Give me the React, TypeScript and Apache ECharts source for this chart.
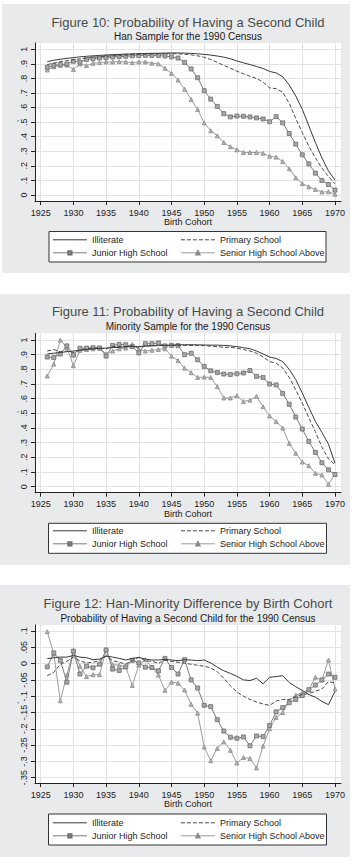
import React, { useEffect, useRef } from "react";
import * as echarts from "echarts";

const FONT = '"Liberation Sans", Arial, Helvetica, sans-serif';

// Birth cohorts (x values)
const years = [
  1926, 1927, 1928, 1929, 1930, 1931, 1932, 1933, 1934, 1935,
  1936, 1937, 1938, 1939, 1940, 1941, 1942, 1943, 1944, 1945,
  1946, 1947, 1948, 1949, 1950, 1951, 1952, 1953, 1954, 1955,
  1956, 1957, 1958, 1959, 1960, 1961, 1962, 1963, 1964, 1965,
  1966, 1967, 1968, 1969, 1970,
];

const xTicks = [1925, 1930, 1935, 1940, 1945, 1950, 1955, 1960, 1965, 1970];
const yTicksProb = [0, 0.1, 0.2, 0.3, 0.4, 0.5, 0.6, 0.7, 0.8, 0.9, 1];
const yTicksDiff = [-0.35, -0.3, -0.25, -0.2, -0.15, -0.1, -0.05, 0, 0.05, 0.1];

const seriesNames = ["Illiterate", "Primary School", "Junior High School", "Senior High School Above"];

// Figure 10: Han sample
const hanIlliterate = [
  0.915, 0.925, 0.932, 0.938, 0.943, 0.948, 0.952, 0.955, 0.958, 0.961,
  0.963, 0.965, 0.967, 0.968, 0.970, 0.971, 0.972, 0.973, 0.974, 0.975,
  0.975, 0.974, 0.972, 0.969, 0.965, 0.960, 0.954, 0.946, 0.935, 0.920,
  0.907, 0.895, 0.882, 0.868, 0.848, 0.838, 0.812, 0.755, 0.680, 0.588,
  0.475, 0.360, 0.255, 0.165, 0.102,
];
const hanPrimary = [
  0.895, 0.905, 0.915, 0.922, 0.928, 0.934, 0.940, 0.945, 0.949, 0.952,
  0.955, 0.958, 0.960, 0.962, 0.964, 0.966, 0.968, 0.969, 0.970, 0.970,
  0.969, 0.966, 0.962, 0.955, 0.945, 0.930, 0.910, 0.890, 0.870, 0.850,
  0.832, 0.815, 0.800, 0.775, 0.735, 0.730, 0.705, 0.630, 0.525, 0.428,
  0.335, 0.255, 0.185, 0.127, 0.078,
];
const hanJunior = [
  0.876, 0.890, 0.895, 0.898, 0.918, 0.912, 0.930, 0.935, 0.940, 0.943,
  0.947, 0.950, 0.952, 0.955, 0.957, 0.958, 0.958, 0.957, 0.954, 0.948,
  0.940, 0.910, 0.865, 0.805, 0.716, 0.658, 0.608, 0.558, 0.536, 0.542,
  0.540, 0.536, 0.529, 0.522, 0.503, 0.538, 0.495, 0.422, 0.349, 0.276,
  0.214, 0.150, 0.100, 0.072, 0.034,
];
const hanSenior = [
  0.858, 0.881, 0.890, 0.892, 0.862, 0.899, 0.888, 0.904, 0.908, 0.913,
  0.913, 0.915, 0.913, 0.908, 0.913, 0.913, 0.904, 0.900, 0.870, 0.835,
  0.789, 0.726, 0.656, 0.587, 0.495, 0.441, 0.406, 0.360, 0.332, 0.310,
  0.292, 0.292, 0.292, 0.287, 0.266, 0.260, 0.230, 0.180, 0.119, 0.078,
  0.056, 0.038, 0.020, 0.022, 0.005,
];

// Figure 11: Minority sample
const minIlliterate = [
  0.905, 0.910, 0.915, 0.920, 0.925, 0.930, 0.935, 0.940, 0.943, 0.945,
  0.948, 0.950, 0.953, 0.955, 0.955, 0.958, 0.960, 0.962, 0.964, 0.965,
  0.967, 0.968, 0.968, 0.967, 0.966, 0.965, 0.965, 0.963, 0.960, 0.955,
  0.948, 0.940, 0.925, 0.905, 0.884, 0.874, 0.852, 0.800, 0.730, 0.638,
  0.540, 0.445, 0.370, 0.290, 0.160,
];
const minPrimary = [
  0.925, 0.935, 0.920, 0.925, 0.915, 0.930, 0.940, 0.945, 0.945, 0.940,
  0.955, 0.955, 0.955, 0.960, 0.950, 0.960, 0.960, 0.965, 0.962, 0.963,
  0.963, 0.962, 0.962, 0.962, 0.962, 0.958, 0.955, 0.950, 0.950, 0.945,
  0.935, 0.925, 0.910, 0.885, 0.853, 0.842, 0.810, 0.745, 0.660, 0.570,
  0.470, 0.375, 0.270, 0.190, 0.150,
];
const minJunior = [
  0.884, 0.880, 0.905, 0.960, 0.897, 0.944, 0.945, 0.948, 0.946, 0.890,
  0.963, 0.970, 0.968, 0.955, 0.912, 0.975, 0.975, 0.980, 0.960, 0.963,
  0.962, 0.900, 0.910, 0.865, 0.820, 0.790, 0.778, 0.768, 0.765, 0.770,
  0.775, 0.792, 0.752, 0.745, 0.700, 0.694, 0.636, 0.562, 0.475, 0.393,
  0.309, 0.234, 0.163, 0.115, 0.083,
];
const minSenior = [
  0.755, 0.836, 1.000, 0.950, 0.825, 0.930, 0.935, 0.940, 0.945, 0.905,
  0.925, 0.940, 0.945, 0.970, 0.935, 0.925, 0.930, 0.935, 0.940, 0.890,
  0.860, 0.808, 0.777, 0.745, 0.747, 0.745, 0.682, 0.605, 0.605, 0.620,
  0.581, 0.590, 0.616, 0.545, 0.482, 0.444, 0.400, 0.295, 0.228, 0.168,
  0.143, 0.091, 0.080, 0.016, 0.086,
];

// Figure 12: Han-minority difference
const diffIlliterate = [
  0.015, 0.018, 0.020, 0.020, 0.025, 0.020, 0.018, 0.012, 0.014, 0.023,
  0.020, 0.016, 0.011, 0.016, 0.019, 0.014, 0.011, 0.011, 0.013, 0.011,
  0.009, 0.012, 0.011, 0.009, 0.011, 0.002, -0.011, -0.022, -0.030, -0.039,
  -0.050, -0.052, -0.045, -0.062, -0.042, -0.040, -0.037, -0.058, -0.071, -0.082,
  -0.095, -0.103, -0.116, -0.126, -0.085,
];
const diffPrimary = [
  -0.037, -0.027, -0.002, 0.007, 0.020, 0.008, 0.002, 0.004, 0.009, 0.024,
  0.009, 0.004, -0.001, 0.009, 0.019, 0.009, 0.007, 0.001, 0.011, 0.007,
  0.004, 0.001, -0.002, -0.005, -0.008, -0.013, -0.025, -0.045, -0.068, -0.087,
  -0.100, -0.110, -0.118, -0.124, -0.128, -0.115, -0.110, -0.110, -0.100, -0.095,
  -0.092, -0.085, -0.078, -0.055, -0.060,
];
const diffJunior = [
  -0.010, 0.033, 0.010, -0.057, 0.038, -0.032, -0.008, -0.013, -0.002, 0.042,
  -0.017, -0.021, -0.010, 0.010, 0.002, -0.011, -0.012, -0.022, 0.016, -0.012,
  -0.032, 0.012, -0.050, -0.075, -0.128, -0.132, -0.172, -0.207, -0.226, -0.229,
  -0.225, -0.252, -0.222, -0.224, -0.190, -0.148, -0.135, -0.120, -0.110, -0.098,
  -0.080, -0.066, -0.050, -0.032, -0.042,
];
const diffSenior = [
  0.098, 0.030, -0.114, -0.035, 0.040, -0.008, -0.040, -0.034, -0.034, 0.042,
  -0.003, -0.005, -0.010, -0.067, -0.005, 0.012, -0.012, -0.035, -0.082, -0.057,
  -0.060, -0.081, -0.125, -0.152, -0.256, -0.298, -0.260, -0.240, -0.266, -0.305,
  -0.288, -0.291, -0.320, -0.253, -0.200, -0.165, -0.150, -0.115, -0.097, -0.089,
  -0.080, -0.042, -0.050, 0.011, -0.078,
];

const STYLES = [
  { line: "#3a3a3a", type: "solid", symbol: "none", fill: "#3a3a3a", border: "#3a3a3a" },
  { line: "#4c4c4c", type: [4, 2], symbol: "none", fill: "#4c4c4c", border: "#4c4c4c" },
  { line: "#7c7c7c", type: "solid", symbol: "rect", fill: "#a6a6a6", border: "#6e6e6e" },
  { line: "#9c9c9c", type: "solid", symbol: "triangle", fill: "#b4b4b4", border: "#8a8a8a" },
];

const TEXT_COLOR = "#222222";

const fmtYear = (v: number) => String(Math.round(v));
const fmtProb = (v: number) => {
  const r = Math.round(v * 10) / 10;
  if (r === 0) return "0";
  if (r === 1) return "1";
  return String(r).replace("0.", ".");
};
const fmtDiff = (v: number) => {
  const r = Math.round(v * 100) / 100;
  if (r === 0) return "0";
  return String(r).replace("0.", ".");
};

// Layout (pixels)
const PANELS = [
  {
    bg: [2, 4, 348, 269],
    title: "Figure 10: Probability of Having a Second Child",
    sub: "Han Sample for the 1990 Census",
    titleY: 22, subY: 36,
    top: 43, bottom: 201,
    lowV: 0, lowPx: 195, highV: 1, highPx: 49.3,
    ticks: yTicksProb, fmt: fmtProb,
    data: [hanIlliterate, hanPrimary, hanJunior, hanSenior],
    box: [49, 231.5, 277, 30.5], rows: [240, 253],
  },
  {
    bg: [0, 294, 350, 271],
    title: "Figure 11: Probability of Having a Second Child",
    sub: "Minority Sample for the 1990 Census",
    titleY: 311.7, subY: 326.7,
    top: 333.3, bottom: 492.7,
    lowV: 0, lowPx: 486.7, highV: 1, highPx: 340,
    ticks: yTicksProb, fmt: fmtProb,
    data: [minIlliterate, minPrimary, minJunior, minSenior],
    box: [48.5, 523.3, 278, 30], rows: [531, 544],
  },
  {
    bg: [0, 585, 350, 272],
    title: "Figure 12: Han-Minority Difference by Birth Cohort",
    sub: "Probability of Having a Second Child for the 1990 Census",
    titleY: 603, subY: 618,
    top: 625, bottom: 783,
    lowV: -0.35, lowPx: 777.7, highV: 0.1, highPx: 631,
    ticks: yTicksDiff, fmt: fmtDiff,
    data: [diffIlliterate, diffPrimary, diffJunior, diffSenior],
    box: [48.5, 814, 278, 31], rows: [823, 836],
  },
];

const GRID_LEFT = 35;
const GRID_RIGHT_PX = 341;
const X1925 = 40.7;
const X1970 = 335;

function buildOption() {
  const pxPerYear = (X1970 - X1925) / 45;
  const xMin = 1925 - (X1925 - GRID_LEFT) / pxPerYear;
  const xMax = 1970 + (GRID_RIGHT_PX - X1970) / pxPerYear;

  const grid: any[] = [];
  const xAxis: any[] = [];
  const yAxis: any[] = [];
  const series: any[] = [];
  const legend: any[] = [];
  const elements: any[] = [];

  PANELS.forEach((p, i) => {
    const unit = (p.highV - p.lowV) / (p.lowPx - p.highPx);
    const yMin = p.lowV - (p.bottom - p.lowPx) * unit;
    const yMax = p.highV + (p.highPx - p.top) * unit;

    elements.push({
      type: "rect", z: -10,
      shape: { x: p.bg[0], y: p.bg[1], width: p.bg[2], height: p.bg[3] },
      style: { fill: "#e8eaeb" },
    });
    elements.push({
      type: "rect", z: 3,
      shape: { x: p.box[0], y: p.box[1], width: p.box[2], height: p.box[3] },
      style: { fill: "#ffffff", stroke: "#333333", lineWidth: 1 },
    });
    elements.push({
      type: "text", z: 10, x: 188, y: p.titleY,
      style: { text: p.title, fontSize: 13, fontFamily: FONT, fill: "#4a4a4a", align: "center", verticalAlign: "middle", textAlign: "center", textVerticalAlign: "middle" },
    });
    elements.push({
      type: "text", z: 10, x: 188, y: p.subY,
      style: { text: p.sub, fontSize: 10, fontFamily: FONT, fill: "#1a1a1a", align: "center", verticalAlign: "middle", textAlign: "center", textVerticalAlign: "middle" },
    });
    // small y-axis title mark
    elements.push({
      type: "text", z: 10, x: 18, y: (p.top + p.bottom) / 2,
      style: { text: "'", fontSize: 8, fontFamily: FONT, fill: TEXT_COLOR, align: "center", verticalAlign: "middle", textAlign: "center", textVerticalAlign: "middle" },
    });

    grid.push({
      left: GRID_LEFT, top: p.top, width: GRID_RIGHT_PX - GRID_LEFT, height: p.bottom - p.top,
      show: true, backgroundColor: "#ffffff", borderWidth: 0,
    });

    xAxis.push({
      type: "value", gridIndex: i, min: xMin, max: xMax,
      axisLine: { show: true, onZero: false, lineStyle: { color: TEXT_COLOR, width: 1 } },
      axisTick: { show: true, length: 4, customValues: xTicks, lineStyle: { color: TEXT_COLOR } },
      axisLabel: { customValues: xTicks, fontSize: 9, color: TEXT_COLOR, margin: 7, fontFamily: FONT, formatter: fmtYear },
      splitLine: { show: true, lineStyle: { color: "#e2e2e2", width: 1 } },
      name: "Birth Cohort", nameLocation: "middle", nameGap: 15.5,
      nameTextStyle: { fontSize: 9, color: TEXT_COLOR, fontFamily: FONT },
    });

    yAxis.push({
      type: "value", gridIndex: i, min: yMin, max: yMax,
      axisLine: { show: true, onZero: false, lineStyle: { color: TEXT_COLOR, width: 1 } },
      axisTick: { show: true, length: 4, customValues: p.ticks, lineStyle: { color: TEXT_COLOR } },
      axisLabel: { customValues: p.ticks, rotate: 90, fontSize: 9, color: TEXT_COLOR, margin: 7, fontFamily: FONT, formatter: p.fmt },
      splitLine: { show: true, lineStyle: { color: "#e2e2e2", width: 1 } },
    });

    p.data.forEach((vals, k) => {
      const s = STYLES[k];
      series.push({
        type: "line", name: seriesNames[k], xAxisIndex: i, yAxisIndex: i,
        data: years.map((yr, j) => [yr, vals[j]]),
        symbol: s.symbol === "none" ? "circle" : s.symbol, symbolSize: 4, showSymbol: s.symbol !== "none",
        lineStyle: { color: s.line, width: 1, type: s.type },
        itemStyle: { color: s.fill, borderColor: s.border, borderWidth: 0.8 },
        silent: true, z: 2 + (3 - k),
      });
    });

    const cols = [52, 180];
    seriesNames.forEach((name, k) => {
      const plain = STYLES[k].symbol === "none";
      const textStyle = { fontSize: 9, color: "#1e1e1e", fontFamily: FONT };
      legend.push({
        data: [plain ? { name, itemStyle: { opacity: 0 }, textStyle } : { name, textStyle }],
        left: cols[k % 2] + 0.4, top: Math.round(p.rows[Math.floor(k / 2)] - 5) + 0.3,
        itemWidth: 34, itemHeight: 4, padding: 0, selectedMode: false,
        lineStyle: { width: 1 },
        textStyle,
      });
    });
  });

  return {
    animation: false,
    backgroundColor: "#ffffff",
    grid, xAxis, yAxis, series, legend,
    graphic: { elements },
  };
}

export default function App() {
  const ref = useRef<HTMLDivElement>(null);
  useEffect(() => {
    if (!ref.current) return;
    const chart = echarts.init(ref.current, null, { renderer: "svg" });
    chart.setOption(buildOption());
    return () => chart.dispose();
  }, []);
  return (
    <div
      ref={ref}
      style={{ position: "absolute", left: 0, top: 0, width: 352, height: 867 }}
    />
  );
}
